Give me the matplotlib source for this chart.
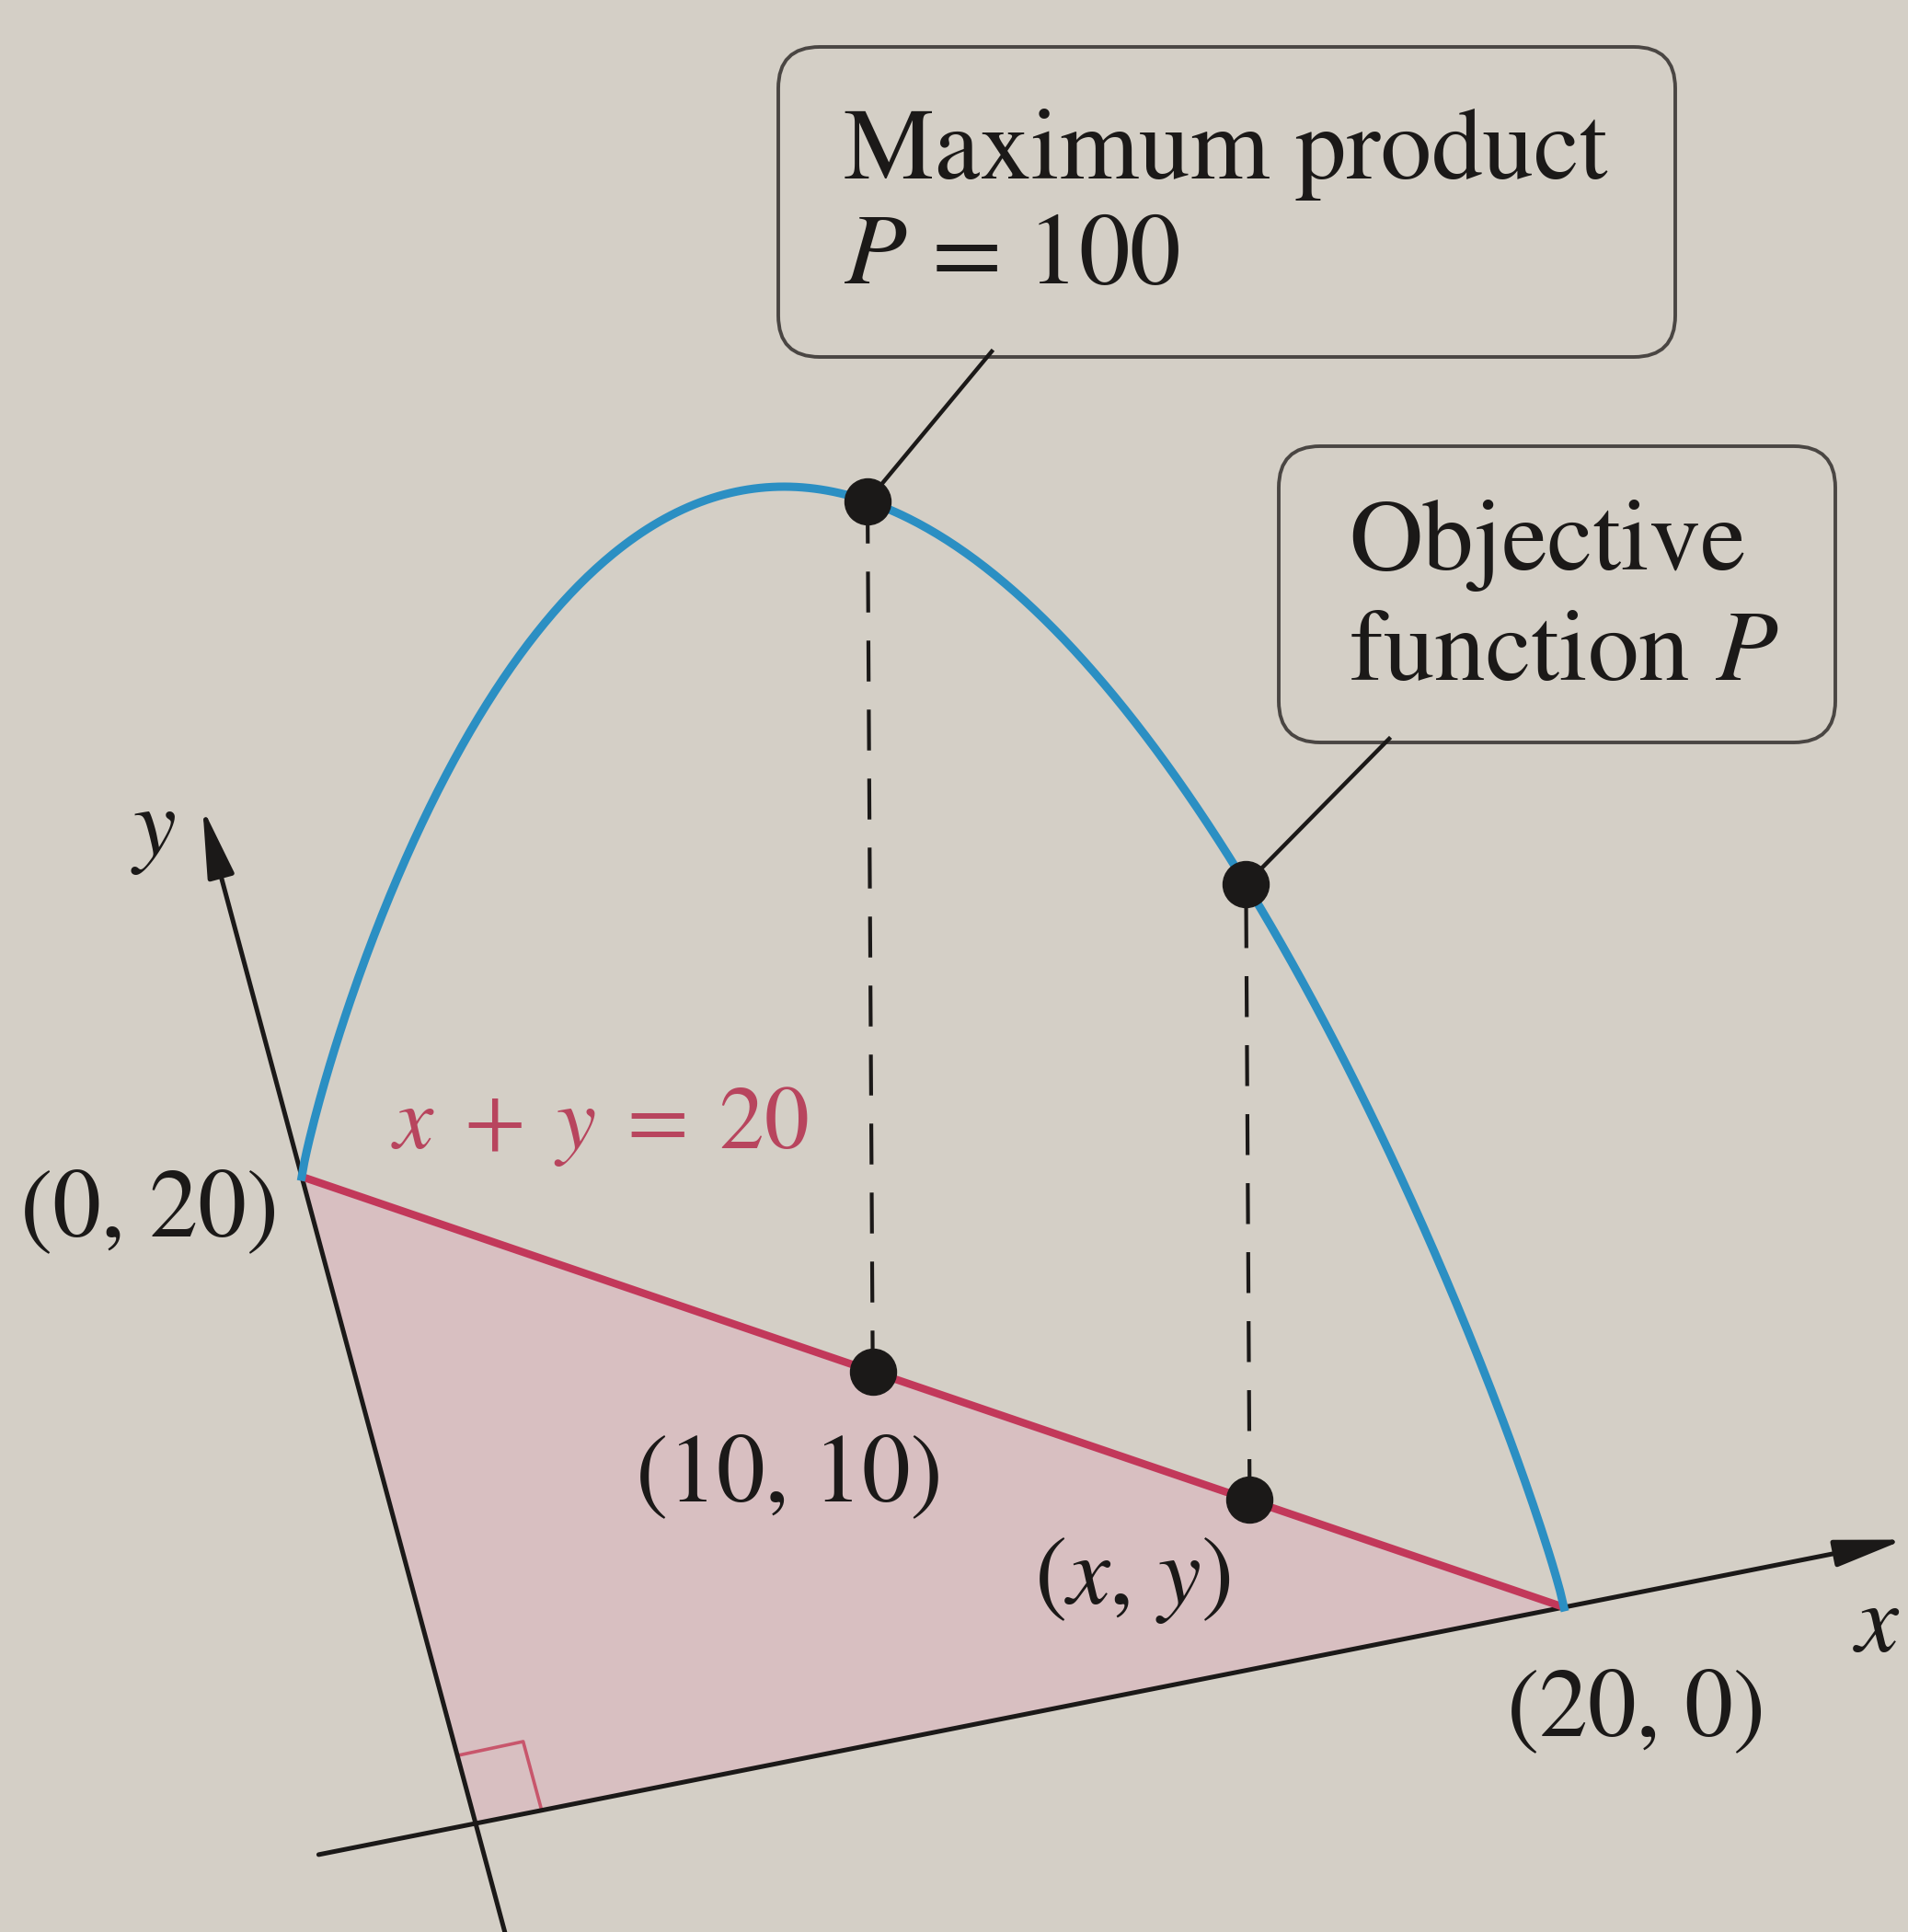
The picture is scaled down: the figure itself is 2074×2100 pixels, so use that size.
import numpy as np
import matplotlib
matplotlib.use('Agg')
import matplotlib.pyplot as plt
from matplotlib.patches import FancyBboxPatch, Polygon

plt.rcParams['font.family'] = 'STIXGeneral'
plt.rcParams['mathtext.fontset'] = 'stix'
plt.rcParams['lines.scale_dashes'] = False

# constraint x + y = 20 and objective P = x*y along it
total = 20
x_curve = np.linspace(0, total, 401)
y_curve = total - x_curve
p_curve = x_curve * y_curve          # objective function P

# marked points on the constraint
x_best, y_best = 10, 10
p_best = x_best * y_best             # maximum product, 100
x_any = 15.7
y_any = total - x_any
p_any = x_any * y_any

# axis extents in plane units
x_axis_range = (-3.6, 24.9)
y_axis_range = (-4.5, 31.4)

# colours
page = '#d4cfc6'
ink = '#1b1918'
blue = '#2b8fc3'
red = '#c2385a'
pink = '#d8bfc1'

# perspective of the xy-plane on the page (pixels)
origin_px = np.array([517.0, 1982.0])
x20_px = np.array([1700.0, 1747.0])
y20_px = np.array([328.0, 1279.0])
mid_px = np.array([951.0, 1484.0])   # where (10, 10) sits on the page
p_scale = 16.44                      # height scale for P
p_gamma = 0.88                       # P drawn on a mild power scale
lean = 0.006                         # slight tilt of the vertical direction

# (10, 10) is not halfway along the line -> one-point perspective in x
seg = x20_px - y20_px
frac = np.dot(mid_px - y20_px, seg) / np.dot(seg, seg)
persp = (frac / (1 - frac) - 1) / total
ex = (x20_px - origin_px) * (1 + total * persp) / total
ey = (y20_px - origin_px) / total


def proj(x, y, p=0):
    x = np.asarray(x, float)
    y = np.asarray(y, float)
    h = p_scale * np.asarray(p, float) ** p_gamma
    w = 1 + persp * x
    u = origin_px[0] + (x * ex[0] + y * ey[0]) / w
    v = origin_px[1] + (x * ex[1] + y * ey[1]) / w
    return u - lean * h, v - h


fig = plt.figure(figsize=(20.74, 21), dpi=100, facecolor=page)
ax = fig.add_axes([0, 0, 1, 1])
ax.set_xlim(0, 2074)
ax.set_ylim(2100, 0)
ax.axis('off')
ax.set_facecolor(page)

# feasible triangle
tri = np.column_stack(proj([0, total, 0], [0, 0, total]))
ax.add_patch(Polygon(tri, closed=True, facecolor=pink, edgecolor='none', zorder=1))

# right angle marker at origin
ra_x, ra_y = proj([1.45, 1.45, 0], [0, 2.1, 2.1])
ax.plot(ra_x, ra_y, color='#c8566c', lw=2.6, zorder=2)

# axes with arrows
arrow = dict(arrowstyle='-|>,head_length=46,head_width=9', color=ink, lw=3.6,
             shrinkA=0, shrinkB=0, mutation_scale=1)
ax.annotate('', xy=proj(x_axis_range[1], 0), xytext=proj(x_axis_range[0], 0),
            arrowprops=arrow, annotation_clip=False, zorder=3)
ax.annotate('', xy=proj(0, y_axis_range[1]), xytext=proj(0, y_axis_range[0]),
            arrowprops=arrow, annotation_clip=False, zorder=3)

# constraint line
lx, ly = proj([0, total], [total, 0])
ax.plot(lx, ly, color=red, lw=6, solid_capstyle='butt', zorder=4)

# objective function curve
cx, cy = proj(x_curve, y_curve, p_curve)
ax.plot(cx, cy, color=blue, lw=6.5, zorder=4)

# dashed drops from the curve to the line
for xv, yv, pv in [(x_best, y_best, p_best), (x_any, y_any, p_any)]:
    bx, by = proj(xv, yv)
    tx, ty = proj(xv, yv, pv)
    ax.plot([bx, tx], [by, ty], color=ink, lw=3.0, dashes=(32, 22), zorder=3)
    ax.plot([bx, tx], [by, ty], 'o', color=ink, ms=36, zorder=6)

# callout boxes
box_style = dict(boxstyle='round,pad=0,rounding_size=45', facecolor='none',
                 edgecolor='#4a4643', lw=2.8, zorder=5)
ax.add_patch(FancyBboxPatch((846, 51), 975, 337, **box_style))
ax.add_patch(FancyBboxPatch((1390, 485), 605, 322, **box_style))

mx, my = proj(x_best, y_best, p_best)
ax.plot([1078, mx], [382, my], color=ink, lw=3.2, zorder=5)
ox, oy = proj(x_any, y_any, p_any)
ax.plot([1510, ox], [803, oy], color=ink, lw=3.2, zorder=5)

fs = 80
ax.text(917, 194, 'Maximum product', fontsize=fs, color=ink, va='baseline')
ax.text(917, 308, '$P$ = 100', fontsize=fs, color=ink, va='baseline')
ax.text(1466, 619, 'Objective', fontsize=fs, color=ink, va='baseline')
ax.text(1466, 739, 'function $P$', fontsize=fs, color=ink, va='baseline')

# point labels
lab = dict(fontsize=76, color=ink, ha='center', va='center')
ax.text(163, 1319, '(0, 20)', **lab)
ax.text(858, 1607, '(10, 10)', **lab)
ax.text(1231, 1718, '($x$, $y$)', **lab)
ax.text(1779, 1862, '(20, 0)', **lab)
ax.text(652, 1225, r'$x \;+\; y \;=\; 20$', fontsize=70, color='#b8455e',
        ha='center', va='center')

# axis names
ax.text(167, 905, '$y$', fontsize=76, color=ink, ha='center', va='center')
ax.text(2040, 1770, '$x$', fontsize=76, color=ink, ha='center', va='center')

fig.savefig('out.png', dpi=100, facecolor=page)
